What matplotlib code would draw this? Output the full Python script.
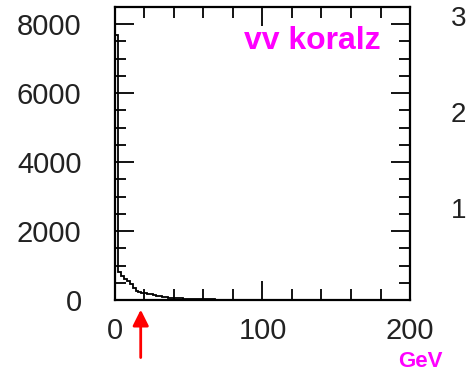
import numpy as np
import matplotlib

matplotlib.use("Agg")
import matplotlib.pyplot as plt
from matplotlib.ticker import MultipleLocator

plt.rcParams["font.family"] = ["Liberation Sans", "DejaVu Sans"]

# missing-energy spectrum, 2 GeV bins from 0 to 80 GeV
bin_edges = np.arange(0, 82, 2)
counts = [
    7700, 800, 700, 620, 560, 450, 360, 260, 220, 200,
    190, 170, 160, 140, 130, 110, 95, 85, 70, 60,
    55, 50, 45, 40, 35, 30, 30, 25, 25, 20,
    20, 18, 15, 15, 12, 10, 10, 8, 6, 5,
]
x_ticks = [0, 100, 200]
y_ticks = [0, 2000, 4000, 6000, 8000]
side_labels = ["3", "2", "1"]
cut_position = 17.5

fig = plt.figure(figsize=(4.67, 3.80), dpi=100)
ax = fig.add_axes([0.246, 0.2105, 0.632, 0.771])

ax.stairs(counts, bin_edges, baseline=0, color="black", linewidth=1.3)

ax.set_xlim(0, 200)
ax.set_ylim(0, 8500)
ax.set_xticks(x_ticks)
ax.set_yticks(y_ticks)
ax.xaxis.set_minor_locator(MultipleLocator(20))
ax.yaxis.set_minor_locator(MultipleLocator(500))

ax.tick_params(which="both", direction="in", top=True, right=True,
               colors="black", labelcolor="#222222", labelsize=21, width=1.3)
ax.tick_params(which="major", length=14)
ax.tick_params(which="minor", length=8)
ax.tick_params(axis="y", which="major", pad=24)
ax.tick_params(axis="x", which="major", pad=12)
for s in ax.spines.values():
    s.set_linewidth(1.6)

# hand annotations
ax.text(0.668, 0.885, "vv koralz", transform=ax.transAxes, color="#ff00ff",
        fontsize=23, fontweight="bold", ha="center", va="center")
fig.text(0.9, 0.048, "GeV", color="#ff00ff", fontsize=16, fontweight="bold",
         ha="center", va="center")
ax.annotate("", xy=(cut_position, -200), xytext=(cut_position, -1750),
            xycoords="data", textcoords="data", annotation_clip=False,
            arrowprops=dict(arrowstyle="-|>", color="red", lw=2.0,
                            mutation_scale=24))

# tick labels of the neighbouring panel
for lab, yf in zip(side_labels, [0.95, 0.697, 0.445]):
    fig.text(0.998, yf, lab, color="#222222", fontsize=20, ha="right", va="center")

fig.savefig("out.png", dpi=100)
